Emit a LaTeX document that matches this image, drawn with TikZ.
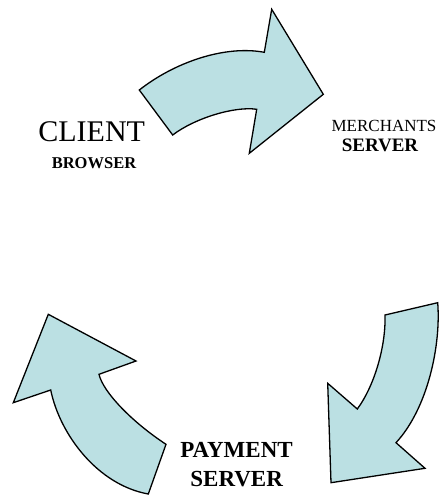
\documentclass[tikz,border=0pt]{standalone}
\usepackage{fontspec}
\usepackage{tikz}
\usepackage{xcolor}
\setmainfont{Liberation Serif}
\definecolor{arrowfill}{RGB}{187,224,227}
\newcommand{\fs}[1]{\fontsize{#1}{#1}\selectfont}

\begin{document}
\begin{tikzpicture}%
  [x=1pt,y=-1pt,line join=miter]
  \tikzstyle{flow arrow}=[draw=black,fill=arrowfill,line width=1.3pt]
  \tikzstyle{txt node}=[inner sep=0,anchor=base]
  \useasboundingbox (0,0) rectangle (442,495);
  % client -> merchant
  \draw[flow arrow] (139.3,90) -- (172.7,135)
    .. controls (195,118) and (235,106) .. (256.7,109.3)
    -- (249.3,153.3) -- (323.3,94.3) -- (271.7,9.3) -- (264.3,52.3)
    .. controls (225,45) and (175,62) .. cycle;
  % merchant -> payment
  \draw[flow arrow] (385,315) -- (437.7,302.7)
    .. controls (441,345) and (428,408) .. (396,442.7)
    -- (425,468.3) -- (331,482.7) -- (327.7,383.3) -- (357.3,409)
    .. controls (375,385) and (386,345) .. cycle;
  % payment -> client
  \draw[flow arrow] (148.3,494) -- (166,444.3)
    .. controls (132,422) and (103,392) .. (99,374.3)
    -- (136,361) -- (48.3,314.3) -- (13.3,402.7) -- (50.7,390)
    .. controls (60,435) and (98,485) .. cycle;
  \node(client)[txt node] at (91.7,141.7){\fs{30}CLIENT};
  \node(browser)[txt node] at (94,168.3){\fs{16.5}\bfseries BROWSER};
  \node(merchants)[txt node] at (384,131.7){\fs{17}MERCHANTS};
  \node(mserver)[txt node] at (380,151.7){\fs{19}\bfseries SERVER};
  \node(payment)[txt node] at (236.5,457.7){\fs{23}\bfseries PAYMENT};
  \node(pserver)[txt node] at (236.7,486.7){\fs{23}\bfseries SERVER};
\end{tikzpicture}
\end{document}
